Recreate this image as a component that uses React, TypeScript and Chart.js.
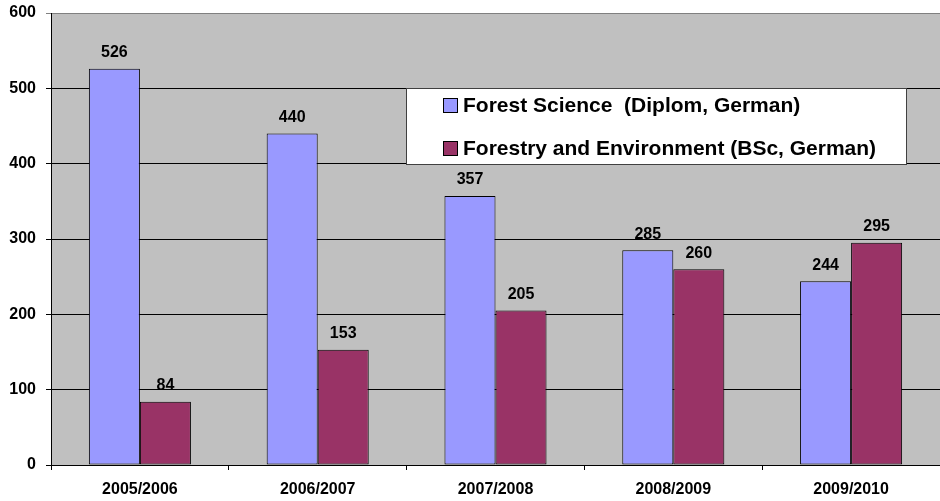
import React, { useEffect, useRef } from "react";
import { Chart, registerables } from "chart.js";

Chart.register(...registerables);

const categories = ["2005/2006", "2006/2007", "2007/2008", "2008/2009", "2009/2010"];
const forestScience = [526, 440, 357, 285, 244];
const forestryEnv = [84, 153, 205, 260, 295];
const seriesLabels = ["Forest Science  (Diplom, German)", "Forestry and Environment (BSc, German)"];
const yTicks = [0, 100, 200, 300, 400, 500, 600];

const FONT = "'Liberation Sans', Arial, sans-serif";

const plotBg = {
  id: "plotBg",
  beforeDraw(chart: any) {
    const { ctx, chartArea: a } = chart;
    ctx.save();
    ctx.fillStyle = "#C0C0C0";
    ctx.fillRect(a.left, a.top, a.right - a.left, a.bottom - a.top);
    ctx.restore();
  },
};

const dataLabels = {
  id: "dataLabels",
  afterDatasetsDraw(chart: any) {
    const { ctx } = chart;
    ctx.save();
    ctx.font = `bold 16px ${FONT}`;
    ctx.fillStyle = "#000";
    ctx.textAlign = "center";
    ctx.textBaseline = "middle";
    chart.data.datasets.forEach((ds: any, i: number) => {
      const meta = chart.getDatasetMeta(i);
      meta.data.forEach((el: any, j: number) => {
        ctx.fillText(String(ds.data[j]), el.x, el.y - 16);
      });
    });
    ctx.restore();
  },
};

const boxLegend = {
  id: "boxLegend",
  afterDatasetsDraw(chart: any) {
    const { ctx } = chart;
    const x = 406, y = 88, w = 500, h = 76;
    ctx.save();
    ctx.fillStyle = "#FFFFFF";
    ctx.fillRect(x, y, w, h);
    ctx.strokeStyle = "#404040";
    ctx.lineWidth = 1;
    ctx.strokeRect(x + 0.5, y + 0.5, w, h);
    ctx.font = `bold 21px ${FONT}`;
    ctx.textBaseline = "middle";
    ctx.textAlign = "left";
    const rows = [105, 148];
    chart.data.datasets.forEach((ds: any, i: number) => {
      const cy = rows[i];
      ctx.fillStyle = ds.backgroundColor;
      ctx.fillRect(443, cy - 7, 14, 14);
      ctx.strokeStyle = "#000";
      ctx.strokeRect(443.5, cy - 6.5, 14, 14);
      ctx.fillStyle = "#000";
      ctx.fillText(ds.label, 463, cy + 1);
    });
    ctx.restore();
  },
};

export default function App() {
  const ref = useRef<HTMLCanvasElement>(null);
  useEffect(() => {
    if (!ref.current) return;
    const chart = new Chart(ref.current, {
      type: "bar",
      data: {
        labels: categories,
        datasets: [
          {
            label: seriesLabels[0],
            data: forestScience,
            backgroundColor: "#9999FF",
            borderColor: "#000000",
            borderWidth: 1,
            borderSkipped: false,
          },
          {
            label: seriesLabels[1],
            data: forestryEnv,
            backgroundColor: "#993366",
            borderColor: "#000000",
            borderWidth: 1,
            borderSkipped: false,
          },
        ],
      },
      options: {
        responsive: false,
        animation: false,
        layout: { padding: { top: 13, right: 0, left: 0, bottom: 0 } },
        datasets: { bar: { categoryPercentage: 0.574, barPercentage: 1 } },
        plugins: { legend: { display: false }, tooltip: { enabled: false }, title: { display: false } },
        scales: {
          x: {
            grid: { drawOnChartArea: false, drawTicks: true, tickLength: 5, offset: true, color: "#000" },
            border: { color: "#000", width: 1 },
            ticks: { color: "#000", font: { family: FONT, weight: "bold", size: 16 }, padding: 10, maxRotation: 0 },
            afterFit: (s: any) => { s.height = 36; s.paddingLeft = 0; s.paddingRight = 0; },
          },
          y: {
            min: 0,
            max: 600,
            afterBuildTicks: (s: any) => { s.ticks = yTicks.map((v) => ({ value: v })); },
            grid: {
              color: (c: any) => (c.tick && c.tick.value === 600 ? "#808080" : "#000"),
              lineWidth: 1,
              drawTicks: true,
              tickLength: 5,
            },
            border: { color: "#000", width: 1 },
            ticks: { color: "#000", font: { family: FONT, weight: "bold", size: 16 }, padding: 10 },
            afterFit: (s: any) => { s.width = 51; s.paddingTop = 0; s.paddingBottom = 0; },
          },
        },
      },
      plugins: [plotBg, dataLabels, boxLegend],
    });
    return () => chart.destroy();
  }, []);
  return (
    <div style={{ position: "absolute", left: 0, top: 0, width: 940, height: 501, background: "#fff" }}>
      <canvas ref={ref} width={940} height={501} />
    </div>
  );
}
